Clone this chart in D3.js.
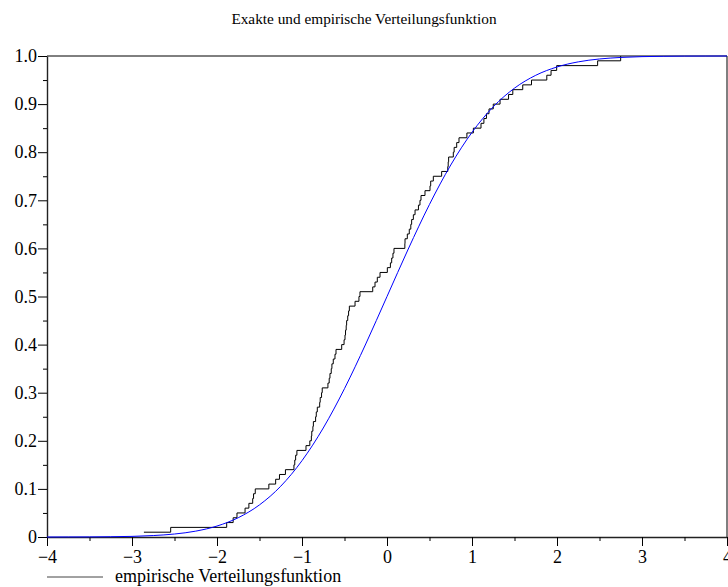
<!DOCTYPE html>
<html>
<head>
<meta charset="utf-8">
<script src="https://cdn.jsdelivr.net/npm/d3@7"></script>
<style>
  html, body { margin: 0; padding: 0; background: #fff; }
  svg { display: block; font-family: "Liberation Serif", "DejaVu Serif", serif; }
</style>
</head>
<body>
<svg id="chart" width="728" height="587"></svg>
<script>
// Sorted sample (100 observations); the empirical CDF jumps by 1/100 at each one.
const sample = [
  -2.86, -2.545, -1.886, -1.81, -1.765, -1.67, -1.625, -1.58, -1.57, -1.55,
  -1.39, -1.31, -1.265, -1.195, -1.095, -1.085, -1.075, -1.06, -0.953, -0.908,
  -0.89, -0.885, -0.872, -0.866, -0.84, -0.832, -0.82, -0.792, -0.786, -0.77,
  -0.762, -0.695, -0.68, -0.671, -0.656, -0.648, -0.632, -0.612, -0.60, -0.533,
  -0.505, -0.494, -0.488, -0.48, -0.475, -0.462, -0.452, -0.443, -0.376, -0.33,
  -0.318, -0.168, -0.141, -0.114, -0.082, 0.004, 0.04, 0.055, 0.07, 0.082,
  0.21, 0.212, 0.239, 0.262, 0.28, 0.29, 0.31, 0.33, 0.37, 0.388,
  0.40, 0.447, 0.506, 0.514, 0.545, 0.643, 0.715, 0.72, 0.725, 0.78,
  0.79, 0.82, 0.847, 0.94, 1.016, 1.106, 1.14, 1.17, 1.20, 1.25,
  1.33, 1.43, 1.48, 1.597, 1.70, 1.88, 1.93, 1.996, 2.478, 2.749
];

// Exact distribution function, tabulated every 0.25.
const exactX = [
  -4, -3.75, -3.5, -3.25, -3, -2.75, -2.5, -2.25, -2, -1.75, -1.5,
  -1.25, -1, -0.75, -0.5, -0.25, 0, 0.25, 0.5, 0.75, 1, 1.25,
  1.5, 1.75, 2, 2.25, 2.5, 2.75, 3, 3.25, 3.5, 3.75, 4
];
const exactF = [
  0.0000, 0.0001, 0.0002, 0.0006, 0.0013, 0.0030, 0.0062, 0.0122, 0.0228, 0.0401, 0.0668,
  0.1056, 0.1587, 0.2266, 0.3085, 0.4013, 0.5000, 0.5987, 0.6915, 0.7734, 0.8413, 0.8944,
  0.9332, 0.9599, 0.9772, 0.9878, 0.9938, 0.9970, 0.9987, 0.9994, 0.9998, 0.9999, 1.0000
];

const xTicks = [-4, -3, -2, -1, 0, 1, 2, 3, 4];
const xMinor = [-3.5, -2.5, -1.5, -0.5, 0.5, 1.5, 2.5, 3.5];
const yTicks = [0, 0.1, 0.2, 0.3, 0.4, 0.5, 0.6, 0.7, 0.8, 0.9, 1.0];
const yMinor = [0.05, 0.15, 0.25, 0.35, 0.45, 0.55, 0.65, 0.75, 0.85, 0.95];

const titleText = "Exakte und empirische Verteilungsfunktion";
const legendText = "empirische Verteilungsfunktion";

const svg = d3.select("#chart");
const margin = { left: 47, right: 1, top: 56, bottom: 50 };
const W = 728, H = 587;
const x = d3.scaleLinear().domain([-4, 4]).range([margin.left, W - margin.right]);
const y = d3.scaleLinear().domain([0, 1]).range([H - margin.bottom, margin.top]);

const fmtY = v => v === 0 ? "0" : d3.format(".1f")(v);
const fmtX = d3.format("d");

// Title
svg.append("text")
  .attr("x", 364).attr("y", 24)
  .attr("text-anchor", "middle")
  .attr("font-size", 15.3)
  .text(titleText);

// Frame: top and right edges
svg.append("path")
  .attr("d", `M${x(-4)},${y(1)}H${x(4)}V${y(0)}`)
  .attr("fill", "none").attr("stroke", "#000").attr("stroke-width", 1);

// Axes
const gx = svg.append("g").attr("transform", `translate(0,${y(0)})`)
  .call(d3.axisBottom(x).tickValues(xTicks).tickFormat(fmtX).tickSize(9).tickPadding(4).tickSizeOuter(0));
const gxm = svg.append("g").attr("transform", `translate(0,${y(0)})`)
  .call(d3.axisBottom(x).tickValues(xMinor).tickFormat("").tickSize(4).tickSizeOuter(0));
const gy = svg.append("g").attr("transform", `translate(${x(-4)},0)`)
  .call(d3.axisLeft(y).tickValues(yTicks).tickFormat(fmtY).tickSize(9).tickPadding(1).tickSizeOuter(0));
const gym = svg.append("g").attr("transform", `translate(${x(-4)},0)`)
  .call(d3.axisLeft(y).tickValues(yMinor).tickFormat("").tickSize(4).tickSizeOuter(0));

[gx, gxm, gy, gym].forEach(g => {
  g.selectAll(".domain").attr("stroke", "#222").attr("stroke-width", 1.4);
  g.selectAll(".tick line").attr("stroke", "#000");
  g.selectAll("text").attr("font-family", "Liberation Serif, serif").attr("font-size", 18).attr("fill", "#000");
});
gxm.select(".domain").remove();
gym.select(".domain").remove();

// Empirical distribution function as a step line, starting at the first observation
const n = sample.length;
const stepData = sample.map((v, i) => [v, (i + 1) / n]);
svg.append("path")
  .datum(stepData)
  .attr("fill", "none").attr("stroke", "#000").attr("stroke-width", 1)
  .attr("d", d3.line().x(d => x(d[0])).y(d => y(d[1])).curve(d3.curveStepAfter));

// Exact distribution function
const exact = exactX.map((v, i) => [v, exactF[i]]);
svg.append("path")
  .datum(exact)
  .attr("fill", "none").attr("stroke", "#0000ff").attr("stroke-width", 1)
  .attr("d", d3.line().x(d => x(d[0])).y(d => y(d[1])).curve(d3.curveMonotoneX));

// Legend
svg.append("line")
  .attr("x1", 47).attr("x2", 103).attr("y1", 577).attr("y2", 577)
  .attr("stroke", "#444").attr("stroke-width", 1);
svg.append("text")
  .attr("x", 115).attr("y", 582)
  .attr("font-size", 18)
  .text(legendText);
</script>
</body>
</html>
